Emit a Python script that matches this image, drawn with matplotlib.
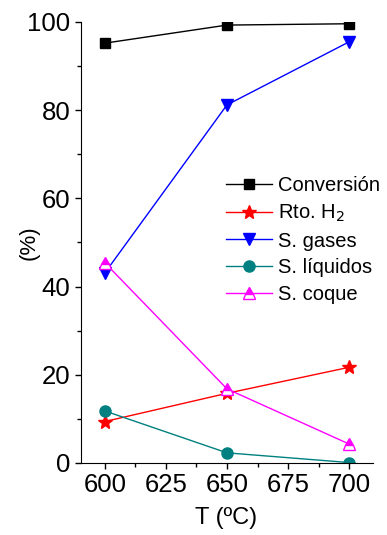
import numpy as np
import matplotlib.pyplot as plt
from matplotlib.ticker import MultipleLocator

plt.rcParams['font.family'] = ['Liberation Sans', 'DejaVu Sans']

# Data
temps = [600, 650, 700]
conversion = [95.2, 99.3, 99.6]
rto_h2 = [9.4, 15.8, 21.7]
s_gases = [43.1, 81.2, 95.5]
s_liquidos = [11.8, 2.3, 0.1]
s_coque = [45.4, 16.8, 4.3]

fig = plt.figure(figsize=(3.87, 5.35), dpi=100)
ax = fig.add_axes([0.209, 0.1346, 0.755, 0.8243])

ax.plot(temps, conversion, color='black', lw=1, marker='s', ms=7, label='Conversión')
ax.plot(temps, rto_h2, color='red', lw=1, marker='*', ms=10, label='Rto. H$_2$')
ax.plot(temps, s_gases, color='blue', lw=1, marker='v', ms=9, label='S. gases')
ax.plot(temps, s_liquidos, color='#008080', lw=1, marker='o', ms=8, label='S. líquidos')
ax.plot(temps, s_coque, color='magenta', lw=1, marker='^', ms=9, fillstyle='top',
        markerfacecoloralt='white', label='S. coque')

ax.set_xlim(590.2, 709.8)
ax.set_ylim(0, 100)
ax.xaxis.set_major_locator(MultipleLocator(25))
ax.xaxis.set_minor_locator(MultipleLocator(12.5))
ax.yaxis.set_major_locator(MultipleLocator(20))
ax.yaxis.set_minor_locator(MultipleLocator(10))

for s in ['top', 'right']:
    ax.spines[s].set_visible(False)
ax.tick_params(which='major', direction='out', length=4, width=1, labelsize=18.5)
ax.tick_params(which='minor', direction='out', length=3, width=1)

ax.set_xlabel('T (ºC)', fontsize=17)
ax.set_ylabel('(%)', fontsize=16)
ax.xaxis.set_label_coords(0.497, -0.100)
ax.yaxis.set_label_coords(-0.140, 0.499)

ax.legend(loc='upper left', bbox_to_anchor=(0.557, 0.69), bbox_transform=fig.transFigure,
          frameon=False, fontsize=14.5, handlelength=2.3, handletextpad=0.3,
          labelspacing=0.38, borderpad=0)

fig.savefig('out.png', dpi=100)
